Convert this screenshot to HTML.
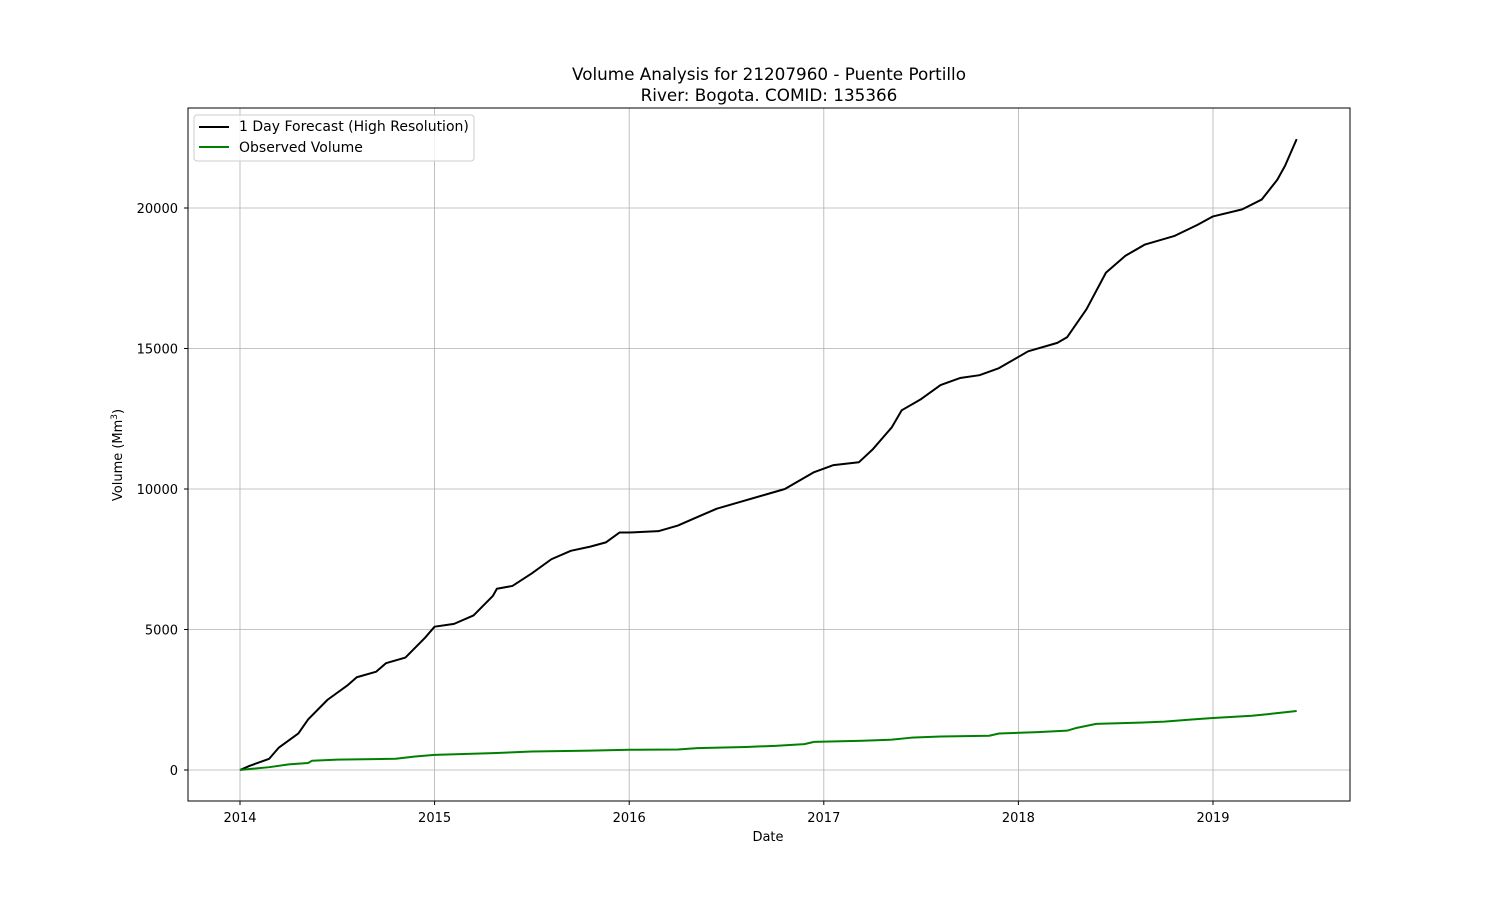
<!DOCTYPE html>
<html><head><meta charset="utf-8"><style>
body{margin:0;background:#fff;}
svg{display:block;font-family:"DejaVu Sans","Liberation Sans",sans-serif;}
</style></head><body>
<svg id="chart" width="1500" height="900">
<rect width="1500" height="900" fill="#fff"/>
<text x="769" y="80" font-size="16.8" text-anchor="middle">Volume Analysis for 21207960 - Puente Portillo</text>
<text x="769" y="101" font-size="16.8" text-anchor="middle">River: Bogota. COMID: 135366</text>
<g id="grid"></g>
<g id="series"></g>
<rect x="188" y="108" width="1162" height="693" fill="none" stroke="#000" stroke-width="1"/>
<g id="ticks"></g>
<text x="768" y="841" font-size="13" text-anchor="middle">Date</text>
<text transform="translate(122,455) rotate(-90)" font-size="13" text-anchor="middle">Volume (Mm<tspan baseline-shift="super" font-size="9">3</tspan>)</text>
<g>
<rect x="194" y="115" width="280" height="46" rx="3" fill="#fff" fill-opacity="0.8" stroke="#ccc"/>
<line x1="199" y1="127" x2="229" y2="127" stroke="#000" stroke-width="2"/>
<text x="239" y="131" font-size="14">1 Day Forecast (High Resolution)</text>
<line x1="199" y1="147" x2="229" y2="147" stroke="green" stroke-width="2"/>
<text x="239" y="152" font-size="14">Observed Volume</text>
</g>
</svg>
<script>
const xTicks=[2014,2015,2016,2017,2018,2019];
const yTicks=[0,5000,10000,15000,20000];
const forecastT=[2014.0,2014.05,2014.15,2014.2,2014.3,2014.35,2014.45,2014.55,2014.6,2014.7,2014.75,2014.85,2014.95,2015.0,2015.1,2015.2,2015.3,2015.32,2015.4,2015.5,2015.6,2015.7,2015.8,2015.88,2015.95,2016.0,2016.15,2016.25,2016.35,2016.45,2016.55,2016.7,2016.8,2016.95,2017.05,2017.18,2017.25,2017.35,2017.4,2017.5,2017.6,2017.7,2017.8,2017.9,2018.0,2018.05,2018.2,2018.25,2018.35,2018.45,2018.55,2018.65,2018.8,2018.92,2019.0,2019.15,2019.25,2019.33,2019.37,2019.43];
const forecastV=[0,150,400,800,1300,1800,2500,3000,3300,3500,3800,4000,4700,5100,5200,5500,6200,6450,6550,7000,7500,7800,7950,8100,8450,8450,8500,8700,9000,9300,9500,9800,10000,10600,10850,10950,11400,12200,12800,13200,13700,13950,14050,14300,14700,14900,15200,15400,16400,17700,18300,18700,19000,19400,19700,19950,20300,21000,21500,22450];
const observedT=[2014,2014.15,2014.25,2014.35,2014.37,2014.5,2014.8,2014.9,2015.0,2015.3,2015.5,2015.8,2016.0,2016.25,2016.35,2016.6,2016.75,2016.9,2016.95,2017.2,2017.35,2017.45,2017.6,2017.85,2017.9,2018.1,2018.25,2018.3,2018.4,2018.6,2018.75,2018.9,2019.0,2019.2,2019.3,2019.43];
const observedV=[0,100,200,250,330,370,400,480,540,600,660,690,720,730,780,820,860,920,1000,1040,1080,1150,1190,1220,1300,1350,1400,1500,1640,1680,1720,1800,1850,1930,2000,2100];
const X=t=>240+(t-2014)*194.6;
const Y=v=>770-v*0.0281;
const NS='http://www.w3.org/2000/svg';
const grid=document.getElementById('grid'),ticks=document.getElementById('ticks'),series=document.getElementById('series');
function mk(tag,attrs,parent){const e=document.createElementNS(NS,tag);for(const k in attrs)e.setAttribute(k,attrs[k]);parent.appendChild(e);return e;}
xTicks.forEach(t=>{
 const x=X(t);
 const g=mk('line',{x1:x,y1:108,x2:x,y2:801,stroke:'#b0b0b0','stroke-width':0.8},grid);
 
 
 mk('line',{x1:x,y1:801,x2:x,y2:805,stroke:'#000'},ticks);
 const l=mk('text',{x:x,y:822,'font-size':13,'text-anchor':'middle'},ticks);
 l.textContent=t;
 
 
});
yTicks.forEach(v=>{
 const y=Y(v);
 const g=mk('line',{x1:188,y1:y,x2:1350,y2:y,stroke:'#b0b0b0','stroke-width':0.8},grid);
 
 
 mk('line',{x1:184,y1:y,x2:188,y2:y,stroke:'#000'},ticks);
 const l=mk('text',{x:178,y:y+5,'font-size':13,'text-anchor':'end'},ticks);
 l.textContent=v;
 
 
});
function line(T,V,color,name){
 const p=mk('polyline',{points:T.map((t,i)=>X(t)+','+Y(V[i])).join(' '),fill:'none',stroke:color,'stroke-width':2,'stroke-linejoin':'round'},series);
 
 
}
line(forecastT,forecastV,'#000','forecast-line');
line(observedT,observedV,'green','observed-line');
</script>
</body></html>
